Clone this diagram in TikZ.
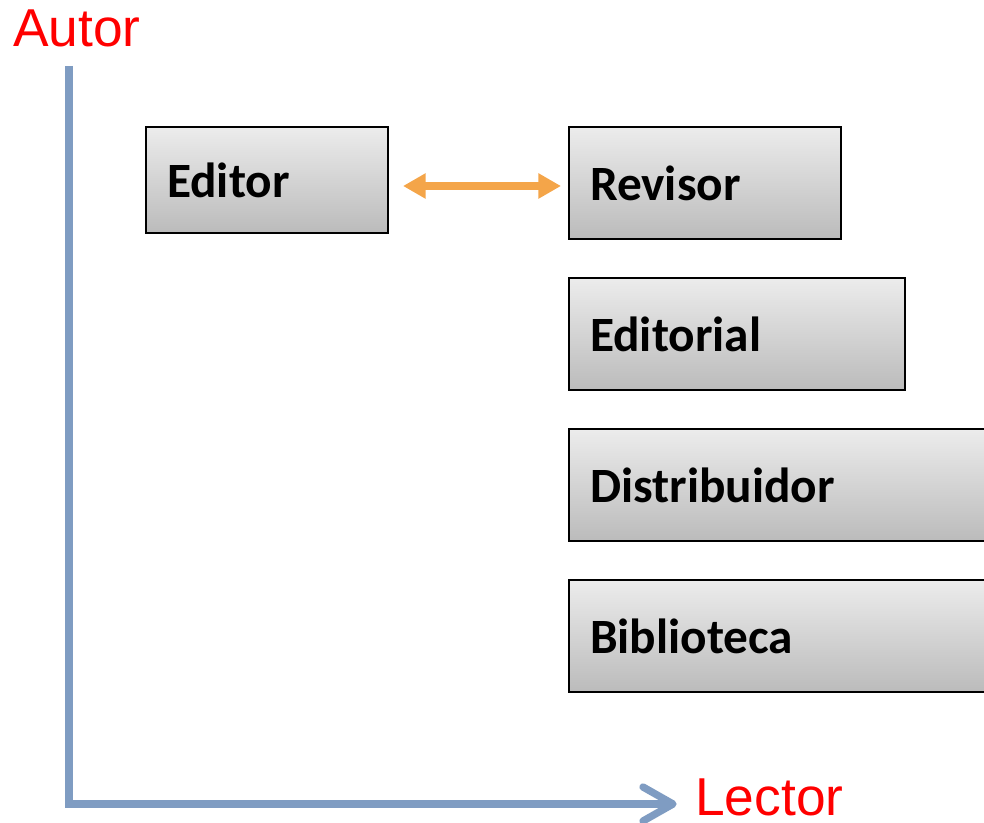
\documentclass[tikz,border=0pt]{standalone}
\usepackage{fontspec}
\setmainfont{Carlito}
\newfontfamily\arialfont{Liberation Sans}
\usetikzlibrary{arrows.meta,calc}
\definecolor{axisblue}{HTML}{7F9CC2}
\definecolor{arroworange}{HTML}{F4A549}
\definecolor{boxtop}{HTML}{ECECEC}
\definecolor{boxbot}{HTML}{BBBBBB}
\definecolor{labelred}{HTML}{FF0000}
\tikzset{
  rolebox/.style={draw=black, line width=1.5pt, top color=boxtop, bottom color=boxbot,
    anchor=north west, inner xsep=15.75pt, inner ysep=0pt, align=left,
    font=\bfseries\fontsize{37}{44}\selectfont, text=black},
  axislabel/.style={font=\arialfont\fontsize{40}{48}\selectfont, text=labelred, inner sep=0pt},
  axisline/.style={draw=axisblue, line width=5.5pt},
}
\begin{document}
\begin{tikzpicture}[x=0.75pt,y=-0.75pt]
\useasboundingbox (0,0) rectangle (984,823);
\clip (0,0) rectangle (984,823);
\node[axislabel, anchor=base west] (autor) at (13,47) {Autor};
\node[axislabel, anchor=base west] (lector) at (695,815) {Lector};
\coordinate (top) at (69,66);
\coordinate (corner) at (69,804);
\coordinate (end) at (673,804);
\coordinate (barbA) at (643,787);
\coordinate (barbB) at (643,821);
\draw[axisline, line join=miter] (top) -- (corner) -- (end);
\draw[draw=axisblue, line width=5.5pt, line cap=round, line join=round] (barbA) -- (end) -- (barbB);
\node[rolebox, minimum width=181.5pt, minimum height=79.5pt, text width=150pt] (editor) at (145,126) {Editor};
\node[rolebox, minimum width=204pt, minimum height=84pt, text width=172.5pt] (revisor) at (568,126) {Revisor};
\node[rolebox, minimum width=252pt, minimum height=84pt, text width=220.5pt] (editorial) at (568,277) {Editorial};
\node[rolebox, minimum width=330pt, minimum height=84pt, text width=298.5pt] (distribuidor) at (568,428) {Distribuidor};
\node[rolebox, minimum width=330pt, minimum height=84pt, text width=298.5pt] (biblioteca) at (568,579) {Biblioteca};
\coordinate (arrL) at (403,186);
\coordinate (arrR) at (561,186);
\draw[draw=arroworange, line width=6pt, {Triangle[length=17pt,width=18pt]}-{Triangle[length=17pt,width=18pt]}] (arrL) -- (arrR);
\end{tikzpicture}
\end{document}
